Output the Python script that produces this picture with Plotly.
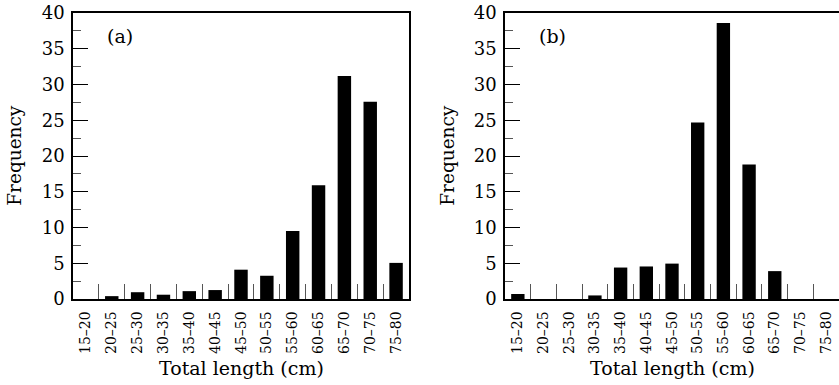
import plotly.graph_objects as go

categories = ["15–20", "20–25", "25–30", "30–35", "35–40", "40–45", "45–50",
              "50–55", "55–60", "60–65", "65–70", "70–75", "75–80"]
freq_a = [0, 0.4, 0.95, 0.6, 1.1, 1.25, 4.1, 3.25, 9.5, 15.9, 31.2, 27.6, 5.05]
freq_b = [0.7, 0, 0, 0.5, 4.4, 4.55, 4.95, 24.7, 38.6, 18.8, 3.9, 0, 0]
panel_labels = ["(a)", "(b)"]
x_title = "Total length (cm)"
y_title = "Frequency"

PW, PH = 839, 385
W, H = PW, PH
TOP, BOT = 12.5, 299          # page pixel rows of y=40 and y=0
MT, MB = TOP, PH - BOT
FONT = "DejaVu Serif"

def fx(px):
    return px / W

def fy(py):
    return (BOT - py) / (BOT - TOP)

fig = go.Figure()
fig.add_trace(go.Bar(x=categories, y=freq_a, marker=dict(color="black", line=dict(width=0)),
                     width=0.52, xaxis="x", yaxis="y", showlegend=False))
fig.add_trace(go.Bar(x=categories, y=freq_b, marker=dict(color="black", line=dict(width=0)),
                     width=0.52, xaxis="x2", yaxis="y2", showlegend=False))

dom_a = [fx(73), fx(409)]
dom_b = [fx(505), 1.0]

def xaxis_cfg(domain, anchor, mirror):
    return dict(domain=domain, anchor=anchor, type="category", range=[-0.5, 12.5],
                showgrid=False, zeroline=False, showline=True, linecolor="black", linewidth=1.5,
                mirror=mirror, ticks="inside", tickson="boundaries", ticklen=15,
                tickcolor="#555", tickwidth=1.2, tickangle=-90,
                tickfont=dict(family=FONT, size=14, color="black"), ticklabelstandoff=5)

def yaxis_cfg(anchor, mirror):
    return dict(anchor=anchor, domain=[0, 1], range=[0, 40], dtick=5, showgrid=False,
                zeroline=False, showline=True, linecolor="black", linewidth=1.5, mirror=mirror,
                ticks="inside", ticklen=15, tickcolor="black", tickwidth=1.2,
                minor=dict(dtick=2.5, ticks="inside", ticklen=8, tickcolor="#555", tickwidth=1),
                tickfont=dict(family=FONT, size=18, color="black"), ticklabelstandoff=3,
                ticklabeloverflow="allow")

fig.update_layout(
    width=W, height=H, margin=dict(l=0, r=0, t=MT, b=MB, autoexpand=False),
    paper_bgcolor="white", plot_bgcolor="white",
    xaxis=xaxis_cfg(dom_a, "y", True),
    yaxis=yaxis_cfg("x", True),
    xaxis2=xaxis_cfg(dom_b, "y2", True),
    yaxis2=yaxis_cfg("x2", False),
    bargap=0.48,
)

ann = []
for lbl, xc, title_x, ytitle_x in [(panel_labels[0], 105, 241, 15), (panel_labels[1], 537, 672, 448)]:
    ann.append(dict(text=lbl, x=fx(xc), y=fy(36), xref="paper", yref="paper",
                    xanchor="left", yanchor="middle", showarrow=False,
                    font=dict(family=FONT, size=19, color="black")))
    ann.append(dict(text=x_title, x=fx(title_x), y=fy(368), xref="paper", yref="paper",
                    xanchor="center", yanchor="middle", showarrow=False,
                    font=dict(family=FONT, size=19, color="black")))
    ann.append(dict(text=y_title, x=fx(ytitle_x), y=fy(155.5), xref="paper", yref="paper",
                    xanchor="center", yanchor="middle", showarrow=False, textangle=-90,
                    font=dict(family=FONT, size=18.5, color="black")))
fig.update_layout(annotations=ann)

fig.write_html("out.html", config={"displayModeBar": False},
               post_script="document.body.style.margin='0px';document.body.style.padding='0px';")
